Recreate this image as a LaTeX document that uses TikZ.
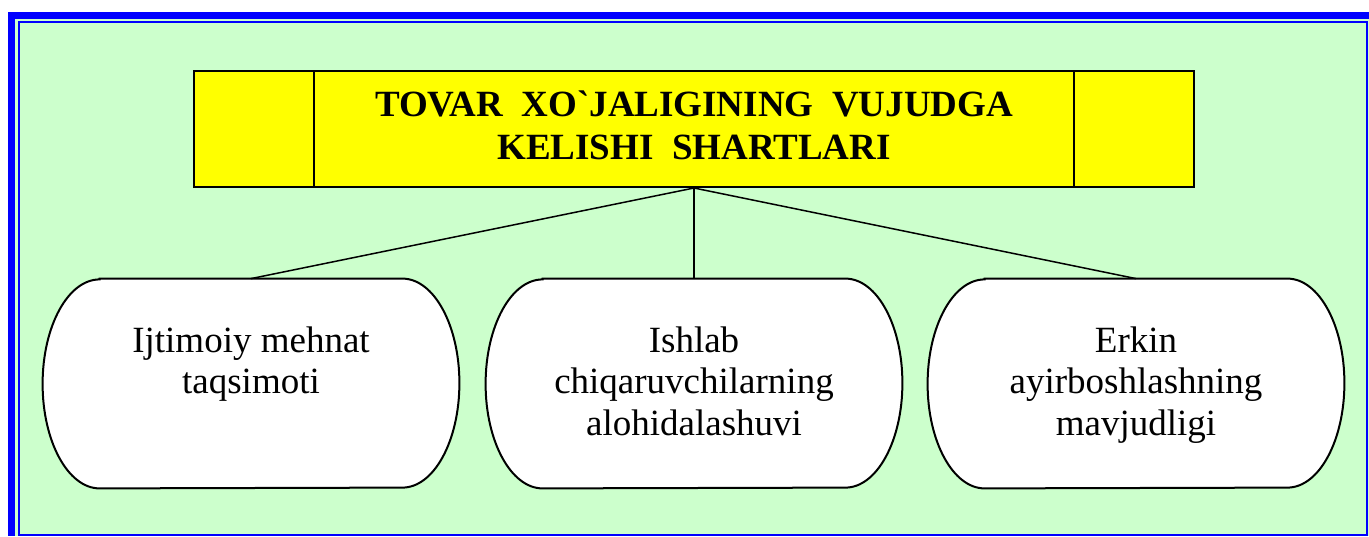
\documentclass[tikz,border=0pt]{standalone}
\usepackage{fontspec}
\setmainfont{Liberation Serif}
\definecolor{bggreen}{HTML}{CCFFCC}
\definecolor{frameblue}{HTML}{0000FF}
\definecolor{headyellow}{HTML}{FFFF00}

\begin{document}
\begin{tikzpicture}[x=0.5pt, y=-0.5pt,
  head/.style={draw, line width=1pt, fill=headyellow, minimum width=500pt, minimum height=58pt, inner sep=0pt},
  oval/.style={minimum width=208pt, minimum height=104.5pt, inner sep=0pt},
  lbl/.style={align=center, inner sep=0pt, font=\fontsize{18.5}{20.75}\selectfont},
  ttl/.style={align=center, inner sep=0pt, font=\bfseries\fontsize{18.5}{21.5}\selectfont}]
\useasboundingbox (0,0) rectangle (1369,536);
% frame
\fill[bggreen] (8,12) rectangle (1369,536);
\fill[frameblue] (8,12) rectangle (1369,19);
\fill[frameblue] (8,12) rectangle (15,536);
\draw[frameblue, line width=1pt] (19,22) rectangle (1367,535);

% title
\node[head] (head) at (694,129) {};
\draw[line width=1pt] ([xshift=60.5pt]head.north west) -- ([xshift=60.5pt]head.south west);
\draw[line width=1pt] ([xshift=-60.5pt]head.north east) -- ([xshift=-60.5pt]head.south east);
\node[ttl, anchor=north] (title) at (694,86) {\strut TOVAR\ \ XO\textasciigrave JALIGINING\ \ VUJUDGA\\KELISHI\ \ SHARTLARI};

% ovals
\node[oval] (o1) at (251,383.5) {};
\node[oval] (o2) at (694,383.5) {};
\node[oval] (o3) at (1136,383.5) {};
\foreach \o in {o1,o2,o3}
  \draw[line width=1pt, fill=white] ([xshift=28.5pt]\o.north west) -- ([xshift=-28.5pt]\o.north east)
    arc[start angle=90, end angle=-90, x radius=28.5pt, y radius=52.25pt]
    -- ([xshift=28.5pt]\o.south west)
    arc[start angle=270, end angle=90, x radius=28.5pt, y radius=52.25pt] -- cycle;

\draw[line width=0.75pt] (head.south) -- (o1.north);
\draw[line width=0.75pt] (head.south) -- (o2.north);
\draw[line width=0.75pt] (head.south) -- (o3.north);

\node[lbl, anchor=north] (t1) at (251,323) {\strut Ijtimoiy mehnat\\taqsimoti};
\node[lbl, anchor=north] (t2) at (694,323) {\strut Ishlab\\chiqaruvchilarning\\alohidalashuvi};
\node[lbl, anchor=north] (t3) at (1136,323) {\strut Erkin\\ayirboshlashning\\mavjudligi};
\end{tikzpicture}
\end{document}
